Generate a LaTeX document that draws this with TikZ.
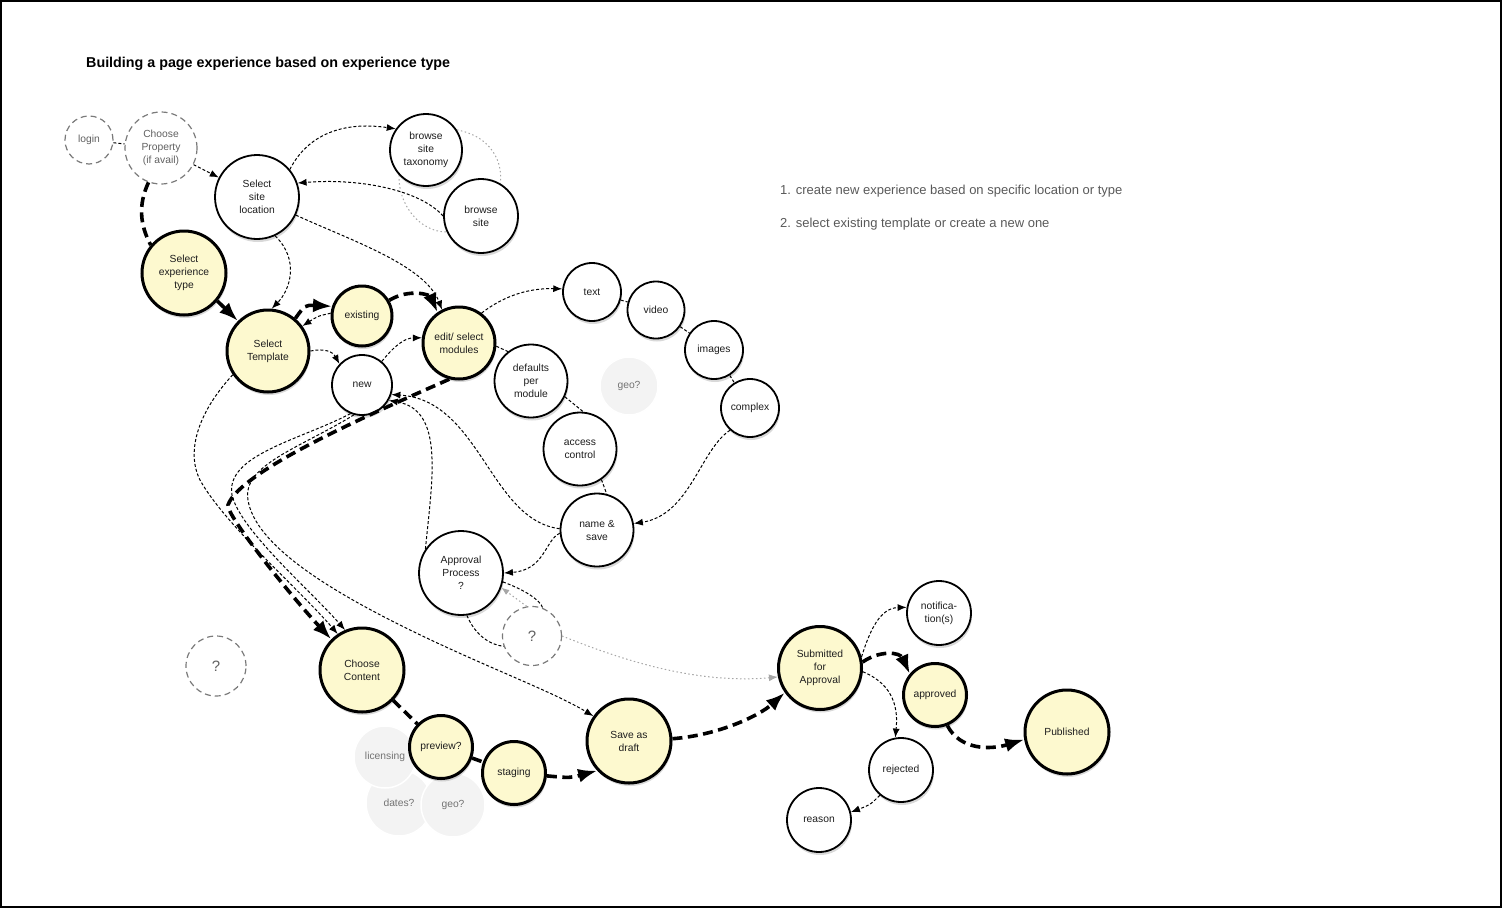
\documentclass[tikz,border=0pt]{standalone}
\usepackage{fontspec}
\setmainfont{Liberation Sans}
\usetikzlibrary{arrows.meta,shadows}
\definecolor{yel}{HTML}{FDF9CF}
\definecolor{lgray}{HTML}{F3F3F3}
\definecolor{dgray}{HTML}{7A7A7A}
\definecolor{txt}{HTML}{1E1E1E}
\pgfdeclarelayer{bg}
\pgfsetlayers{bg,main}
\begin{document}
\begin{tikzpicture}[x=1pt,y=-1pt,
 base/.style={circle,inner sep=0pt,align=center,font=\fontsize{10.3}{13}\selectfont,text=txt},
 shad/.style={drop shadow={shadow xshift=1pt,shadow yshift=-3pt,opacity=0.3}},
 wnode/.style={base,draw=black,line width=1.8pt,fill=white,shad},
 ynode/.style={base,draw=black,line width=3pt,fill=yel,shad},
 dnode/.style={base,draw=dgray,line width=1.2pt,dash pattern=on 6pt off 4pt,text=black!62,fill=white},
 gnode/.style={base,fill=lgray,draw=white,line width=1.5pt,text=black!55},
 tdash/.style={line width=1pt,dash pattern=on 3pt off 2pt},
 Tdash/.style={line width=3.6pt,dash pattern=on 10pt off 5.5pt},
 gdot/.style={line width=1pt,black!35,dash pattern=on 1.5pt off 2.5pt},
 ta/.style={-{Latex[length=9pt,width=7pt]}},
 Ta/.style={-{Latex[length=19pt,width=14pt]}}
]
\useasboundingbox (0,0) rectangle (1502,908);
\draw[line width=2pt] (1,1) rectangle (1501,907);

\node[anchor=west,inner sep=0pt,font=\fontsize{14.3}{16}\selectfont\bfseries] (title) at (86,63.5) {Building a page experience based on experience type};
\node[anchor=west,inner sep=0pt,font=\fontsize{13}{15}\selectfont,text=black!65] (n1) at (780,191.5) {1. create new experience based on specific location or type};
\node[anchor=west,inner sep=0pt,font=\fontsize{13}{15}\selectfont,text=black!65] (n2) at (780,224.5) {2. select existing template or create a new one};

% light grey circles
\node[gnode,minimum size=66] (dates) at (399,803) {dates?};
\node[gnode,minimum size=64] (geob) at (453,805) {geo?};
\node[gnode,minimum size=62] (lic) at (385,757) {licensing};
\node[gnode,minimum size=58] (geoa) at (629,386) {geo?};

% nodes
\node[dnode,minimum size=48] (login) at (89,140) {login};
\node[dnode,minimum size=72] (cp) at (161,148) {Choose\\Property\\(if avail)};
\node[wnode,minimum size=84] (ssl) at (257,197) {Select\\site\\location};
\node[wnode,minimum size=72] (bst) at (426,150) {browse\\site\\taxonomy};
\node[wnode,minimum size=74] (bs) at (481,216) {browse\\site};
\node[ynode,minimum size=84] (set) at (184,273) {Select\\experience\\type};
\node[ynode,minimum size=82] (tpl) at (268,351) {Select\\Template};
\node[ynode,minimum size=60] (ex) at (362,316) {existing};
\node[wnode,minimum size=60] (new) at (362,385) {new};
\node[ynode,minimum size=72] (esm) at (459,343) {edit/ select\\modules};
\node[wnode,minimum size=58] (text) at (592,292) {text};
\node[wnode,minimum size=57] (video) at (656,310) {video};
\node[wnode,minimum size=58] (images) at (714,350) {images};
\node[wnode,minimum size=58] (complex) at (750,408) {complex};
\node[wnode,minimum size=73] (dpm) at (531,381) {defaults\\per\\module};
\node[wnode,minimum size=73] (ac) at (580,449) {access\\control};
\node[wnode,minimum size=73] (ns) at (597,530) {name \&\\save};
\node[wnode,minimum size=84] (ap) at (461,573) {Approval\\Process\\?};
\node[dnode,minimum size=59] (q1) at (532,636) {\fontsize{15}{15}\selectfont ?};
\node[dnode,minimum size=60] (q2) at (216,666) {\fontsize{15}{15}\selectfont ?};
\node[ynode,minimum size=84] (cc) at (362,670) {Choose\\Content};
\node[ynode,minimum size=63] (prev) at (441,747) {preview?};
\node[ynode,minimum size=63] (stg) at (514,773) {staging};
\node[ynode,minimum size=84] (sad) at (629,741) {Save as\\draft};
\node[ynode,minimum size=83] (sub) at (820,668) {Submitted\\for\\Approval};
\node[wnode,minimum size=64] (notif) at (939,613) {notifica-\\tion(s)};
\node[ynode,minimum size=63] (appr) at (935,695) {approved};
\node[ynode,minimum size=84] (pub) at (1067,732) {Published};
\node[wnode,minimum size=64] (rej) at (901,770) {rejected};
\node[wnode,minimum size=64] (reason) at (819,820) {reason};

% background dotted ring
\begin{pgfonlayer}{bg}
\draw[gdot] (bst.33) .. controls (485,135) and (503,155) .. (bs.59);
\draw[gdot] (bst.223) .. controls (398,205) and (420,232) .. (bs.205);
\end{pgfonlayer}

% connectors
\draw[tdash] (login) -- (cp);
\draw[tdash,ta] (cp) -- (ssl);
\draw[Tdash] (cp.-110) .. controls (138,205) and (140,225) .. (set.140);
\draw[line width=3.6pt,Ta] (set.-40) -- (tpl.135);
\draw[tdash,ta] (ssl.-65) .. controls (300,260) and (290,290) .. (tpl.85);
\draw[tdash,ta] (ssl.40) .. controls (310,130) and (350,122) .. (bst.145);
\draw[tdash,ta] (bs.180) .. controls (420,190) and (360,178) .. (ssl.19);
\draw[tdash,ta] (ssl.-25) .. controls (350,240) and (425,265) .. (esm.117);
\draw[Tdash,Ta] (tpl.50) .. controls (305,305) .. (ex.162);
\draw[tdash,ta] (ex.175) .. controls (318,316) .. (tpl.36);
\draw[Tdash,Ta] (ex.30) .. controls (410,288) and (430,295) .. (esm.125);
\draw[tdash,ta] (tpl.0) .. controls (325,348) and (333,352) .. (new.137);
\draw[tdash,ta] (new.50) .. controls (395,345) and (405,338) .. (esm.172);
\draw[Tdash,Ta] (esm.-105) .. controls (380,410) and (240,470) .. (228,505) .. controls (226,515) and (290,595) .. (cc.135);
\draw[tdash,ta] (new.-112) .. controls (300,440) and (225,455) .. (232,495) .. controls (240,530) and (310,590) .. (cc.113);
\draw[tdash,ta] (new.-105) .. controls (300,448) and (242,465) .. (248,500) .. controls (255,545) and (330,590) .. (400,625) .. controls (480,665) and (550,690) .. (sad.145);
\draw[tdash,ta] (tpl.-146) .. controls (200,410) and (185,450) .. (200,480) .. controls (225,525) and (300,590) .. (cc.124);
\draw[tdash,ta] (ns.178) .. controls (490,520) and (480,400) .. (new.-18);
\draw[tdash,ta] (ap.146) .. controls (432,480) and (445,410) .. (new.-30);
\draw[tdash,ta] (ns.185) .. controls (545,540) and (545,570) .. (ap.0);
\draw[tdash,ta] (complex.-132) .. controls (700,450) and (690,515) .. (ns.10);
\draw[tdash,ta] (esm.53) .. controls (505,295) and (530,288) .. (text.174);
\draw[tdash] (text) -- (video);
\draw[tdash] (video) -- (images);
\draw[tdash] (images) -- (complex);
\draw[tdash] (esm.-5) -- (dpm.128);
\draw[tdash] (dpm.-25) -- (ac.85);
\draw[tdash] (ac.-55) -- (ns.75);
\draw[tdash] (ap.-12) .. controls (525,590) and (540,600) .. (q1.69);
\draw[tdash] (ap.-82) .. controls (475,635) and (490,645) .. (q1.-160);
\draw[gdot,-{Latex[length=8pt,width=6pt]}] (q1.100) -- (ap.-20);
\draw[gdot,-{Latex[length=9pt,width=7pt]}] (q1.0) .. controls (610,655) and (690,685) .. (sub.192);
\draw[Tdash] (cc) -- (prev);
\draw[Tdash] (prev) -- (stg);
\draw[Tdash,Ta] (stg.-5) .. controls (570,778) .. (sad.-137);
\draw[Tdash,Ta] (sad.3) .. controls (720,735) and (760,715) .. (sub.-145);
\draw[tdash,ta] (sub.15) .. controls (870,630) and (880,608) .. (notif.170);
\draw[Tdash,Ta] (sub.8) .. controls (880,650) and (900,652) .. (appr.140);
\draw[tdash,ta] (sub.-5) .. controls (895,685) and (898,710) .. (rej.100);
\draw[Tdash,Ta] (appr.-68) .. controls (960,750) and (990,750) .. (pub.190);
\draw[tdash,ta] (rej.-130) .. controls (870,805) .. (reason.14);
\end{tikzpicture}
\end{document}
